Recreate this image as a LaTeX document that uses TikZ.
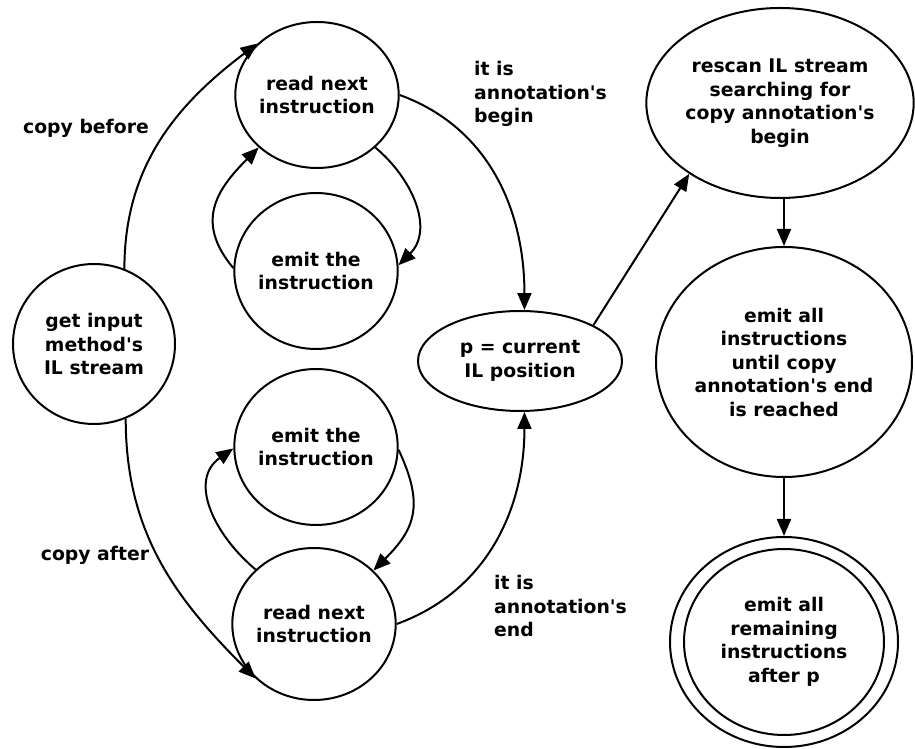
\documentclass[tikz,border=0pt]{standalone}
\usepackage{fontspec}
\setmainfont{DejaVu Sans}
\usetikzlibrary{shapes.geometric,arrows.meta}
\newcommand{\ap}{\textquotesingle}
\begin{document}
\begin{tikzpicture}[x=1pt,y=1pt,
  every node/.style={font=\bfseries\fontsize{18.8}{23.5}\selectfont},
  st/.style={ellipse, draw, line width=2pt, inner sep=0pt, align=center},
  edge/.style={line width=2pt, -{Triangle[length=17pt,width=14pt]}},
  lbl/.style={inner sep=0pt, align=left}]
\useasboundingbox (0,0) rectangle (915,749);
% states
\node[st, minimum width=162pt, minimum height=160pt] (gi) at (94,405) {get input\\method\ap s\\IL stream};
\node[st, minimum width=162pt, minimum height=146pt] (rt) at (317,654) {read next\\instruction};
\node[st, minimum width=159pt, minimum height=156pt] (et) at (316,478) {emit the\\instruction};
\node[st, minimum width=159pt, minimum height=156pt] (eb) at (316,302) {emit the\\instruction};
\node[st, minimum width=160pt, minimum height=152pt] (rb) at (314,125) {read next\\instruction};
\node[st, minimum width=204pt, minimum height=100pt] (pc) at (520,388) {p = current\\IL position};
\node[st, minimum width=264pt, minimum height=190pt] (rs) at (780,646) {rescan IL stream\\searching for\\copy annotation\ap s\\begin};
\node[st, minimum width=256pt, minimum height=230pt] (ea) at (784,387) {emit all\\instructions\\until copy\\annotation\ap s end\\is reached};
\node[st, minimum width=228pt, minimum height=210pt] (fin) at (784,107) {};
\node[st, minimum width=200pt, minimum height=186pt] (finin) at (784,107) {emit all\\remaining\\instructions\\after p};
% labels
\node[lbl] (lcb) at (86,621) {copy before};
\node[lbl] (lca) at (95,194) {copy after};
\node[lbl, anchor=west] (lbeg) at (474,655) {it is\\annotation\ap s\\begin};
\node[lbl, anchor=west] (lend) at (494,143) {it is\\annotation\ap s\\end};
% transitions
\draw[edge] (gi.68) to[out=90,in=217] (rt.139);
\draw[edge] (gi.-67) to[out=-90,in=135] (rb.223);
\draw[edge] (rt.-42) to[out=-40,in=45,out distance=50pt,in distance=50pt] (et.4);
\draw[edge] (et.178) to[out=130,in=225,out distance=60pt,in distance=60pt] (rt.222);
\draw[edge] (rb.137) to[out=140,in=215,out distance=55pt,in distance=55pt] (eb.181);
\draw[edge] (eb.-2) to[out=-65,in=45,out distance=60pt,in distance=60pt] (rb.42);
\draw[edge] (rt.0) to[out=-20,in=90] (pc.85);
\draw[edge] (rb.0) to[out=20,in=-90] (pc.-85);
\draw[edge] (pc.26) -- (rs.218);
\draw[edge] (rs.south -| ea.north) -- (ea.north);
\draw[edge] (ea.south) -- (fin.north);
\end{tikzpicture}
\end{document}
